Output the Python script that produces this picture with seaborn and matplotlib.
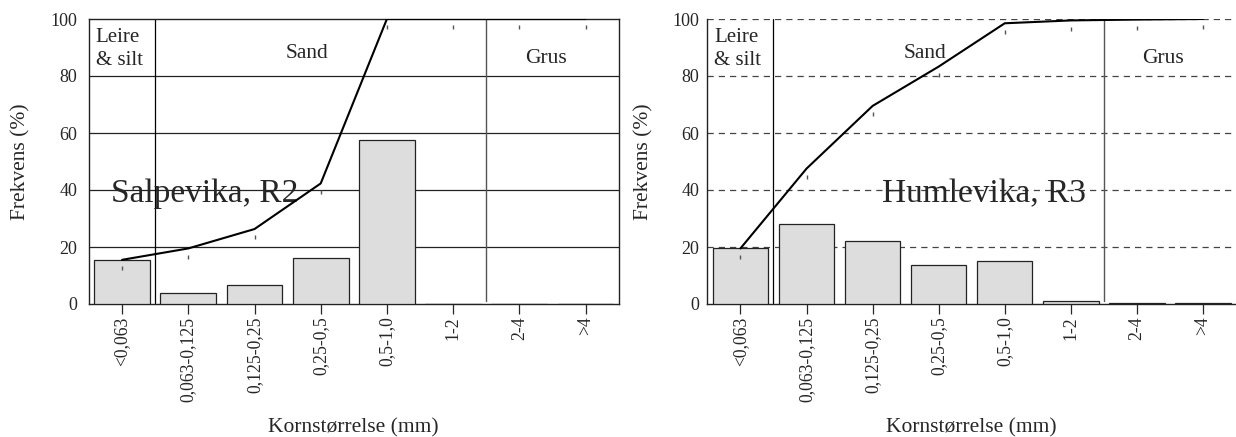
import matplotlib
matplotlib.use("Agg")
import matplotlib.pyplot as plt
import matplotlib.transforms as mtransforms
import numpy as np
import pandas as pd
import seaborn as sns

# Kornfordeling, to lokaliteter
kategorier = ['<0,063', '0,063-0,125', '0,125-0,25', '0,25-0,5', '0,5-1,0', '1-2', '2-4', '>4']
salpevika_frekv = [15.5, 4.0, 6.8, 16.0, 57.5, 0.0, 0.0, 0.0]
salpevika_kum = [15.5, 19.5, 26.3, 42.3, 100.0, 100.0, 100.0, 100.0]
humlevika_frekv = [19.5, 28.0, 22.2, 13.8, 15.2, 1.0, 0.2, 0.3]
humlevika_kum = [19.5, 47.5, 69.5, 83.3, 98.5, 99.5, 99.8, 100.0]
paneler = [('Salpevika, R2', salpevika_frekv, salpevika_kum, 'solid'),
           ('Humlevika, R3', humlevika_frekv, humlevika_kum, 'dashed')]

sns.set_style('white')
plt.rcParams['font.family'] = ['Liberation Serif', 'DejaVu Serif']

fig = plt.figure(figsize=(12.36, 4.37), dpi=100)
ax_pos = [[89 / 1236, 133 / 437, 529.6 / 1236, 285 / 437],
          [707.4 / 1236, 133 / 437, 528.6 / 1236, 285 / 437]]
tekst_x = [-0.17, 2.15]
ypad = [8.6, 5.8]

for i, (navn, frekv, kum, gridstil) in enumerate(paneler):
    ax = fig.add_axes(ax_pos[i])
    df = pd.DataFrame({'kat': kategorier, 'frekv': frekv})
    sns.barplot(data=df, x='kat', y='frekv', order=kategorier, color='#dddddd',
                edgecolor='#222222', linewidth=0.9, width=0.84, saturation=1, ax=ax, zorder=3)
    x = np.arange(len(kategorier))
    sns.lineplot(x=x, y=kum, color='black', linewidth=1.5, ax=ax, zorder=5)
    # små markører under kurvepunktene
    off = mtransforms.ScaledTranslation(0, -6 / 72, fig.dpi_scale_trans)
    ax.plot(x, kum, linestyle='none', marker='|', markersize=3.5, color='#555555',
            transform=ax.transData + off, zorder=4)

    ax.set_xlim(-0.5, len(kategorier) - 0.5)
    ax.set_ylim(0, 100)
    ax.set_yticks([0, 20, 40, 60, 80, 100])
    for yv in [20, 40, 60, 80]:
        if gridstil == 'solid':
            ax.axhline(yv, color='#222222', linewidth=0.9, zorder=1)
        else:
            ax.axhline(yv, color='#444444', linewidth=0.9, linestyle=(0, (5, 4)), zorder=1)
    if gridstil == 'dashed':
        ax.axhline(100, color='#444444', linewidth=0.9, linestyle=(0, (5, 4)), zorder=1)
        ax.spines['top'].set_visible(False)
        ax.spines['right'].set_visible(False)
    ax.axvline(0.5, ymin=0.005, ymax=1, color='black', linewidth=0.9, zorder=2)
    ax.axvline(5.5, ymin=0.01, ymax=1, color='#555555', linewidth=1.0, zorder=2)
    for s in ['left', 'bottom', 'top', 'right']:
        ax.spines[s].set_color('#222222')
        ax.spines[s].set_linewidth(1.0)

    ax.text(-0.4, 97, 'Leire\n& silt', fontsize=15, va='top', ha='left', linespacing=1.35)
    ax.text(2.79, 88, 'Sand', fontsize=15.5, ha='center', va='center')
    ax.text(6.4, 86, 'Grus', fontsize=15.5, ha='center', va='center')
    ax.text(tekst_x[i], 38.6, navn, fontsize=24, ha='left', va='center')

    ax.set_xlabel('Kornstørrelse (mm)', fontsize=15.5, labelpad=12)
    ax.set_ylabel('Frekvens (%)', fontsize=15.5, labelpad=14)
    ax.tick_params(axis='x', rotation=90, labelsize=12.7, length=7, width=0.9,
                   direction='out', bottom=True, pad=2)
    ax.tick_params(axis='y', labelsize=13, length=0, pad=ypad[i])

fig.savefig('out.png', dpi=100)
